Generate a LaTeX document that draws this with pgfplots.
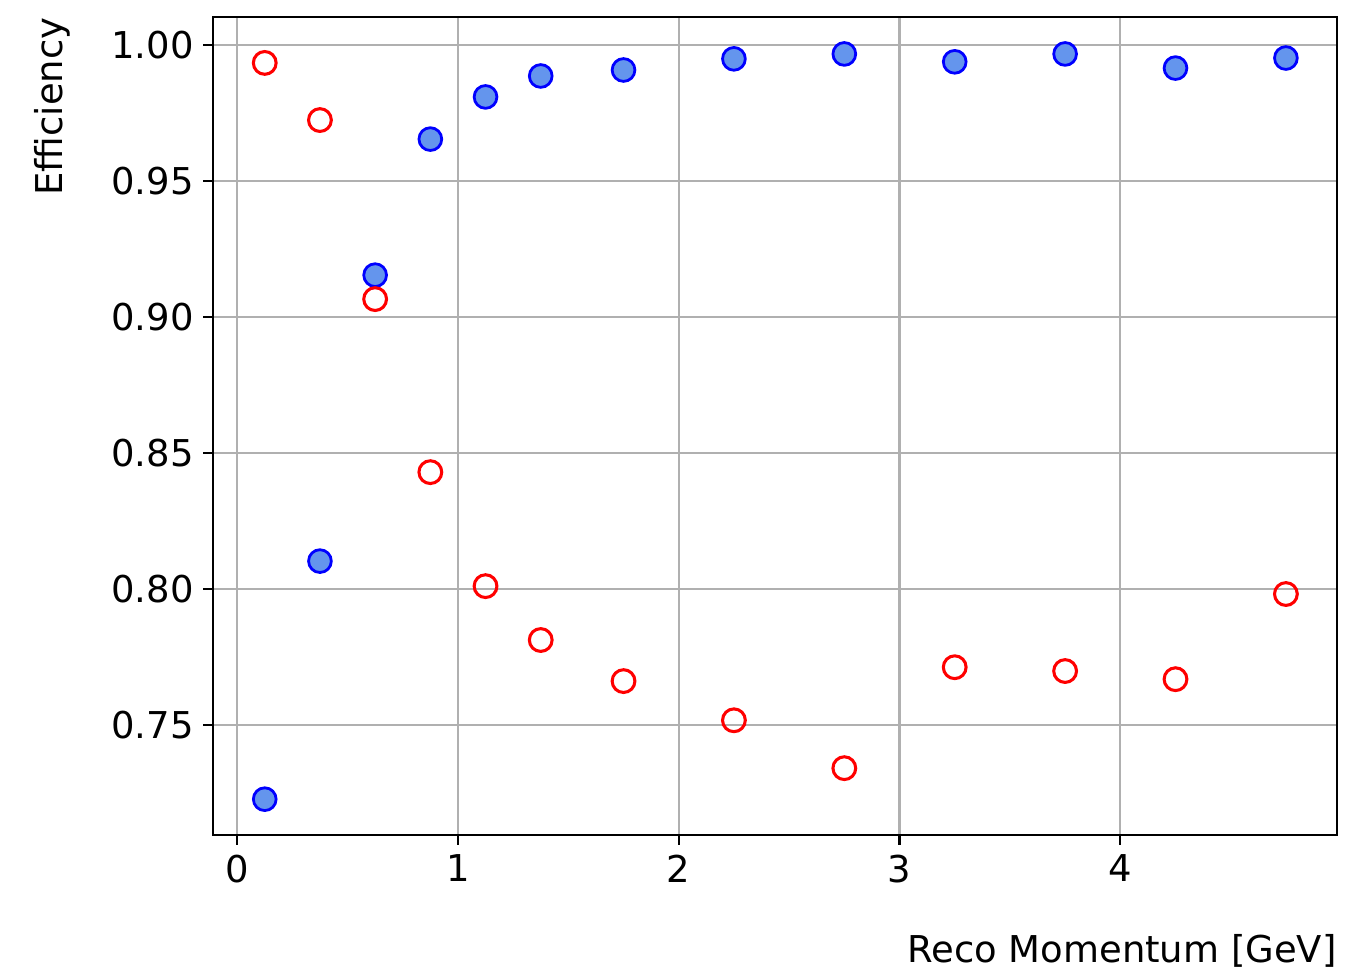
\documentclass[border=0pt]{standalone}
\usepackage{pgfplots}
\pgfplotsset{compat=1.18}
\usepackage{fontspec}
\setmainfont{DejaVu Sans}
\definecolor{fillblue}{RGB}{100,149,237}
\definecolor{gridgray}{RGB}{176,176,176}
\begin{document}
\begin{tikzpicture}
\begin{axis}[
  name=ax,
  scale only axis,
  width=404.6pt, height=294.5pt,
  xmin=-0.109, xmax=4.982,
  ymin=0.7096, ymax=1.0103,
  xtick={0,1,2,3,4},
  ytick={0.75,0.80,0.85,0.90,0.95,1.00},
  yticklabel style={/pgf/number format/.cd,fixed,fixed zerofill,precision=2},
  /pgf/number format/assume math mode=true,
  tick label style={font=\fontsize{13.3}{16}\selectfont},
  tick pos=left, tick align=outside,
  major tick length=3.5pt,
  every tick/.style={black, line width=0.8pt},
  axis line style={line width=0.8pt},
  grid=major,
  major grid style={gridgray, line width=0.8pt},
  xlabel={Reco Momentum [GeV]},
  ylabel={Efficiency},
  label style={font=\fontsize{13.3}{16}\selectfont},
  xlabel style={at={(axis description cs:1,-0.121)}, anchor=north east, inner sep=0pt},
  ylabel style={at={(axis description cs:-0.127,1)}, anchor=south east, inner sep=0pt},
  clip=false,
]
\addplot[only marks, mark=*, mark size=4.1pt, mark options={draw=blue, fill=fillblue, line width=1pt}] coordinates {
(0.125,0.7228) (0.375,0.8103) (0.625,0.9154) (0.875,0.9654) (1.125,0.9809)
(1.375,0.9886) (1.75,0.9908) (2.25,0.9949) (2.75,0.9967) (3.25,0.9938)
(3.75,0.9967) (4.25,0.9915) (4.75,0.9952)
};
\addplot[only marks, mark=o, mark size=4.1pt, mark options={draw=red, line width=1.1pt}] coordinates {
(0.125,0.9934) (0.375,0.9724) (0.625,0.9066) (0.875,0.8430) (1.125,0.8011)
(1.375,0.7813) (1.75,0.7662) (2.25,0.7518) (2.75,0.7342) (3.25,0.7713)
(3.75,0.7699) (4.25,0.7669) (4.75,0.7982)
};
\end{axis}
\pgfresetboundingbox
\path ([shift={(-76.7pt,-49pt)}]ax.south west) rectangle ([shift={(5pt,6.1pt)}]ax.north east);
\end{tikzpicture}
\end{document}
